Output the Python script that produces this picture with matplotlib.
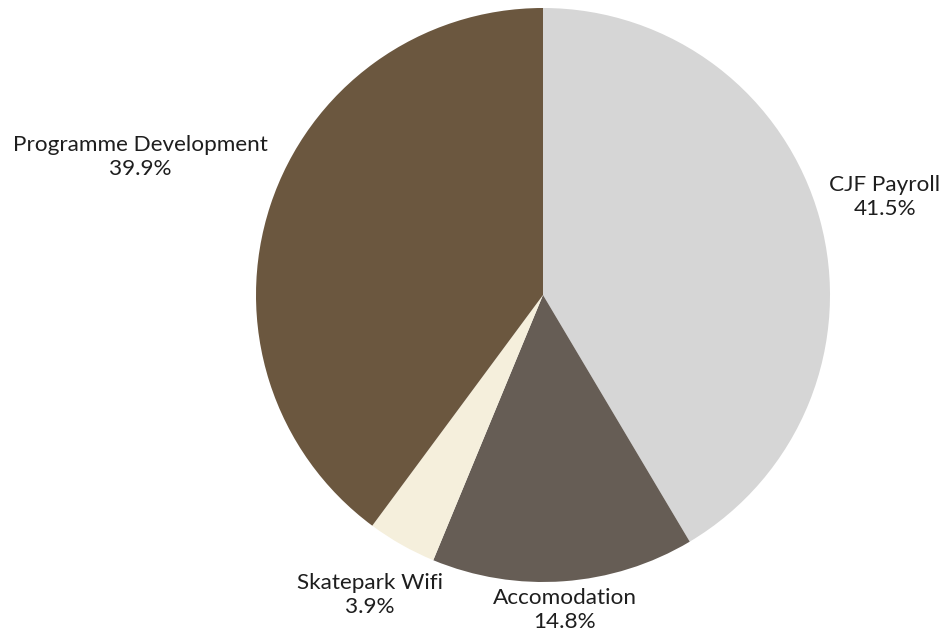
import matplotlib.pyplot as plt

categories = ['CJF Payroll', 'Accomodation', 'Skatepark Wifi', 'Programme Development']
shares = [41.5, 14.8, 3.9, 39.9]
colors = ['#d6d6d6', '#665d55', '#f5efdc', '#6b573f']

# label anchor points (pixels, image coords) and alignment
label_pos = [(829, 197), (565, 610), (370, 595), (268, 157)]
label_ha = ['left', 'center', 'center', 'right']

W, H = 946, 633
fig = plt.figure(figsize=(W / 100, H / 100), dpi=100)
ax = fig.add_axes([0, 0, 1, 1])

ax.pie(shares, colors=colors, startangle=90, counterclock=False,
       center=(543, H - 295), radius=287, normalize=True,
       wedgeprops=dict(linewidth=0))

# pie() resets the limits, so set the pixel frame afterwards
ax.set_xlim(0, W)
ax.set_ylim(0, H)
ax.set_aspect('equal')
ax.axis('off')

for name, val, (x, y), ha in zip(categories, shares, label_pos, label_ha):
    ax.text(x, H - y, f'{name}\n{val:.1f}%', ha=ha, va='center',
            multialignment='center', fontsize=16.2, family='Lato',
            color='#1e1e1e', linespacing=1.3)

fig.savefig('out.png', dpi=100)
